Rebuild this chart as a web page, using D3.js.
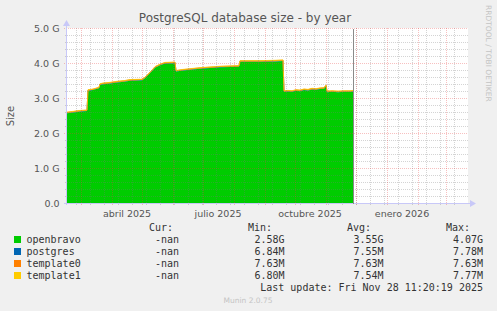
<!DOCTYPE html>
<html>
<head>
<meta charset="utf-8">
<script src="https://cdnjs.cloudflare.com/ajax/libs/d3/7.8.5/d3.min.js"></script>
<style>
  body { margin: 0; background: #f0f0f0; }
  svg text { font-family: "DejaVu Sans", sans-serif; }
</style>
</head>
<body>
<script>
// data (openbravo in G, the rest in M)
var dates = ["2025-02-15","2025-02-23","2025-02-28","2025-03-07","2025-03-08","2025-03-13","2025-03-19","2025-03-20",
  "2025-03-23","2025-03-30","2025-04-06","2025-04-13","2025-04-19","2025-05-01","2025-05-04","2025-05-09",
  "2025-05-14","2025-05-19","2025-05-24","2025-06-03","2025-06-04","2025-06-11","2025-06-18","2025-06-28",
  "2025-07-08","2025-07-18","2025-07-28","2025-08-06","2025-08-07","2025-08-27","2025-09-11","2025-09-19",
  "2025-09-20","2025-09-24","2025-09-28","2025-10-02","2025-10-06","2025-10-10","2025-10-14","2025-10-18",
  "2025-10-22","2025-10-26","2025-10-30","2025-11-01","2025-11-02","2025-11-07","2025-11-13","2025-11-19",
  "2025-11-25","2025-11-28T11:20"];
var openbravo = [2.58,2.61,2.63,2.64,3.22,3.24,3.29,3.39,
  3.41,3.43,3.46,3.48,3.51,3.52,3.58,3.72,
  3.88,3.95,4.00,4.01,3.77,3.80,3.82,3.85,
  3.87,3.89,3.90,3.91,4.05,4.05,4.06,4.07,
  3.19,3.20,3.19,3.22,3.21,3.24,3.23,3.26,
  3.25,3.27,3.28,3.35,3.18,3.19,3.18,3.19,
  3.19,3.20];
var postgres = [6.84,6.90,7.00,7.10,7.20,7.30,7.40,7.45,
  7.48,7.50,7.52,7.54,7.55,7.56,7.57,7.58,
  7.59,7.60,7.60,7.61,7.62,7.62,7.63,7.64,
  7.65,7.66,7.66,7.67,7.68,7.69,7.70,7.70,
  7.71,7.72,7.72,7.73,7.73,7.74,7.74,7.75,
  7.75,7.76,7.76,7.77,7.77,7.77,7.78,7.78,
  7.78,7.78];
var template0 = [7.63,7.63,7.63,7.63,7.63,7.63,7.63,7.63,
  7.63,7.63,7.63,7.63,7.63,7.63,7.63,7.63,
  7.63,7.63,7.63,7.63,7.63,7.63,7.63,7.63,
  7.63,7.63,7.63,7.63,7.63,7.63,7.63,7.63,
  7.63,7.63,7.63,7.63,7.63,7.63,7.63,7.63,
  7.63,7.63,7.63,7.63,7.63,7.63,7.63,7.63,
  7.63,7.63];
var template1 = [6.80,6.90,7.00,7.10,7.20,7.30,7.40,7.45,
  7.48,7.50,7.52,7.53,7.54,7.55,7.56,7.57,
  7.58,7.59,7.60,7.60,7.61,7.62,7.62,7.63,
  7.64,7.65,7.66,7.66,7.67,7.68,7.69,7.70,
  7.70,7.71,7.72,7.72,7.73,7.73,7.74,7.74,
  7.75,7.75,7.76,7.76,7.76,7.77,7.77,7.77,
  7.77,7.77];

var yTicks = [0, 1, 2, 3, 4, 5];
var yTickLabels = ["0.0", "1.0 G", "2.0 G", "3.0 G", "4.0 G", "5.0 G"];
var xLabelMonths = ["2025-04-01", "2025-07-01", "2025-10-01", "2026-01-01"];
var xLabels = ["abril 2025", "julio 2025", "octubre 2025", "enero 2026"];

var seriesNames = ["openbravo", "postgres", "template0", "template1"];
var seriesColors = ["#00cc00", "#0066b3", "#ff8000", "#ffcc00"];
var curVals = ["-nan", "-nan", "-nan", "-nan"];
var minVals = ["2.58G", "6.84M", "7.63M", "6.80M"];
var avgVals = ["3.55G", "7.55M", "7.63M", "7.54M"];
var maxVals = ["4.07G", "7.78M", "7.63M", "7.77M"];

var W = 497, H = 311;
var plotL = 67, plotR = 467, plotT = 28.5, plotB = 203.5;

var parse = function(s){ return new Date(s.length > 10 ? s : s + "T00:00"); };

var x = d3.scaleTime()
  .domain([parse("2025-02-15"), parse("2026-03-22")])
  .range([plotL, plotR]);
var y = d3.scaleLinear().domain([0, 5]).range([plotB, plotT]);

var svg = d3.select("body").append("svg")
  .attr("width", W).attr("height", H)
  .attr("shape-rendering", "crispEdges");

svg.append("rect").attr("width", W).attr("height", H).attr("fill", "#f0f0f0");
svg.append("rect").attr("x", plotL).attr("y", 28).attr("width", plotR - plotL + 1).attr("height", plotB - 28)
  .attr("fill", "#ffffff");

// stacked data
var rows = dates.map(function(d, i){
  return { t: parse(d), ob: openbravo[i], pg: postgres[i] / 1000, t0: template0[i] / 1000, t1: template1[i] / 1000 };
});
var stack = d3.stack().keys(["ob", "pg", "t0", "t1"])(rows);

var area = d3.area()
  .x(function(d){ return x(d.data.t); })
  .y0(function(d){ return y(d[0]); })
  .y1(function(d){ return y(d[1]); });
var topLine = d3.line()
  .x(function(d){ return x(d.data.t); })
  .y(function(d){ return y(d[1]) - 0.3; });

stack.forEach(function(s, i){
  svg.append("path").datum(s).attr("d", area).attr("fill", seriesColors[i])
    .attr("shape-rendering", "auto");
  if (i > 0) {
    svg.append("path").datum(s).attr("d", topLine).attr("fill", "none")
      .attr("shape-rendering", "auto")
      .attr("stroke", seriesColors[i]).attr("stroke-width", 0.8);
  }
});

// grid (dotted, drawn over the areas like rrdtool does)
var minorColor = "rgba(120,120,120,0.32)", majorColor = "rgba(230,60,60,0.32)";
var minorY = d3.range(0, 5.01, 0.2).filter(function(v){ return Math.abs(v - Math.round(v)) > 0.01; });
svg.selectAll(".hminor").data(minorY).enter().append("line")
  .attr("x1", plotL).attr("x2", plotR + 1)
  .attr("y1", function(d){ return y(d); }).attr("y2", function(d){ return y(d); })
  .attr("stroke", minorColor).attr("stroke-dasharray", "1,1");

var minorX = [];
var anchor = parse("2025-12-15");
for (var t = d3.timeDay.offset(anchor, -14 * 30); t <= x.domain()[1]; t = d3.timeDay.offset(t, 14)) {
  if (t >= x.domain()[0]) minorX.push(t);
}
svg.selectAll(".vminor").data(minorX).enter().append("line")
  .attr("x1", function(d){ return Math.round(x(d)) + 0.5; })
  .attr("x2", function(d){ return Math.round(x(d)) + 0.5; })
  .attr("y1", 28).attr("y2", 206)
  .attr("stroke", minorColor).attr("stroke-dasharray", "1,1");

var months = d3.timeMonth.range(x.domain()[0], x.domain()[1]);
svg.selectAll(".vmajor").data(months).enter().append("line")
  .attr("x1", function(d){ return Math.round(x(d)) + 0.5; })
  .attr("x2", function(d){ return Math.round(x(d)) + 0.5; })
  .attr("y1", 28).attr("y2", 206)
  .attr("stroke", majorColor).attr("stroke-dasharray", "1,1");

svg.selectAll(".hmajor").data(yTicks).enter().append("line")
  .attr("x1", plotL - 3).attr("x2", plotR + 1)
  .attr("y1", function(d){ return y(d); }).attr("y2", function(d){ return y(d); })
  .attr("stroke", majorColor).attr("stroke-dasharray", "1,1");
svg.selectAll(".ytickm").data(minorY).enter().append("line")
  .attr("x1", plotL - 2).attr("x2", plotL)
  .attr("y1", function(d){ return y(d); }).attr("y2", function(d){ return y(d); })
  .attr("stroke", minorColor);

// axes
var axisColor = "#c8c8f8";
svg.append("line").attr("x1", plotL - 0.5).attr("x2", plotL - 0.5).attr("y1", plotB + 1).attr("y2", 22)
  .attr("stroke", axisColor);
svg.append("path").attr("d", "M63,26 L66.5,20 L70,26 Z").attr("fill", axisColor).attr("shape-rendering", "auto");
svg.append("line").attr("x1", plotL - 3).attr("x2", plotR + 4).attr("y1", plotB).attr("y2", plotB)
  .attr("stroke", axisColor);
svg.append("path").attr("d", "M470,200 L476,203.5 L470,207 Z").attr("fill", axisColor).attr("shape-rendering", "auto");

// now line
var now = parse("2025-11-28T11:20");
svg.append("line")
  .attr("x1", Math.round(x(now)) + 0.5).attr("x2", Math.round(x(now)) + 0.5)
  .attr("y1", plotT).attr("y2", plotB)
  .attr("stroke", "#8a8a8a");

// tick labels
svg.selectAll(".ylab").data(yTicks).enter().append("text")
  .attr("x", 59.5).attr("y", function(d){ return y(d) + 3.5; })
  .attr("text-anchor", "end").attr("font-size", "9.5px").attr("fill", "#555")
  .text(function(d, i){ return yTickLabels[i]; });

svg.selectAll(".xlab").data(xLabelMonths).enter().append("text")
  .attr("x", function(d){ return x(d3.timeDay.offset(parse(d), 15)); })
  .attr("y", 216.5)
  .attr("text-anchor", "middle").attr("font-size", "9.5px").attr("fill", "#555")
  .text(function(d, i){ return xLabels[i]; });

svg.append("text").attr("x", 245).attr("y", 22).attr("text-anchor", "middle")
  .attr("font-size", "12px").attr("fill", "#555")
  .text("PostgreSQL database size - by year");

svg.append("text").attr("transform", "translate(14,116) rotate(-90)")
  .attr("text-anchor", "middle").attr("font-size", "10px").attr("fill", "#555")
  .text("Size");

svg.append("text").attr("transform", "translate(485.5,5) rotate(90)")
  .attr("text-anchor", "start").attr("font-size", "7.5px").attr("fill", "#c4c4c4")
  .text("RRDTOOL / TOBI OETIKER");

// legend
var mono = "'DejaVu Sans Mono', monospace";
var head = [["Cur:", 173], ["Min:", 272], ["Avg:", 371], ["Max:", 470]];
head.forEach(function(h){
  svg.append("text").attr("x", h[1]).attr("y", 231).attr("text-anchor", "end")
    .style("font-family", mono).attr("font-size", "10px").attr("fill", "#333").text(h[0]);
});
var rowY = [243, 255, 267, 279];
seriesNames.forEach(function(n, i){
  svg.append("rect").attr("x", 14).attr("y", rowY[i] - 7.5).attr("width", 7).attr("height", 7)
    .attr("fill", seriesColors[i]);
  svg.append("text").attr("x", 26.5).attr("y", rowY[i]).style("font-family", mono)
    .attr("font-size", "10px").attr("fill", "#333").text(n);
  [[curVals, 179], [minVals, 284.5], [avgVals, 383.5], [maxVals, 483]].forEach(function(c){
    svg.append("text").attr("x", c[1]).attr("y", rowY[i]).attr("text-anchor", "end")
      .style("font-family", mono).attr("font-size", "10px").attr("fill", "#333").text(c[0][i]);
  });
});
svg.append("text").attr("x", 483).attr("y", 291).attr("text-anchor", "end")
  .style("font-family", mono).attr("font-size", "10px").attr("fill", "#333")
  .text("Last update: Fri Nov 28 11:20:19 2025");

svg.append("text").attr("x", 248).attr("y", 303).attr("text-anchor", "middle")
  .attr("font-size", "7.5px").attr("fill", "#c4c4c4").text("Munin 2.0.75");
</script>
</body>
</html>
